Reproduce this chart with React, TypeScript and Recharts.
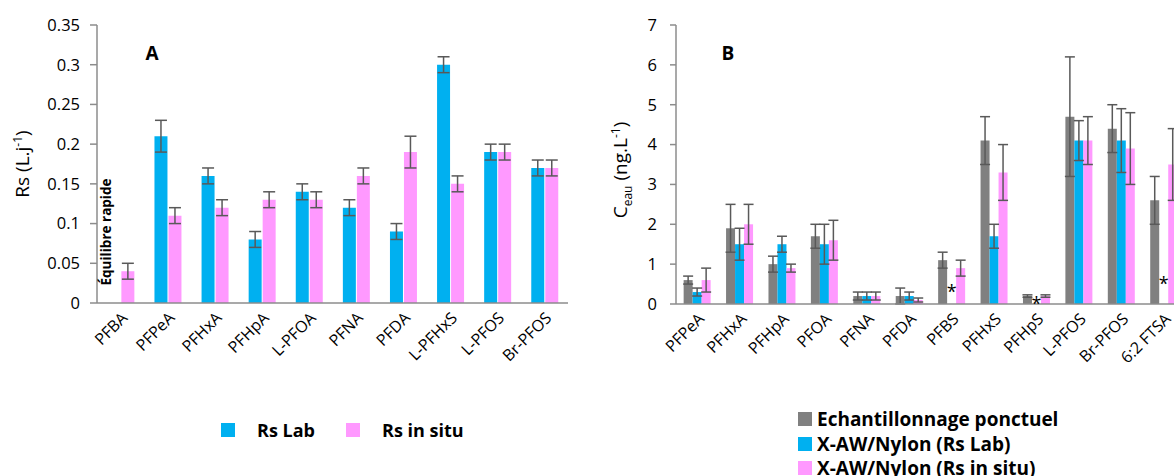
import { ComposedChart, Bar, Line, XAxis, YAxis, ErrorBar } from "recharts";

const FONT = '"Open Sans", sans-serif';
const BLUE = "#00B0F0";
const PINK = "#FF99FF";
const GRAY = "#808080";
const ERR = "#595959";
const AXIS = "#8C8C8C";

// Panel A : taux d'échantillonnage
const categoriesA = ["PFBA", "PFPeA", "PFHxA", "PFHpA", "L-PFOA", "PFNA", "PFDA", "L-PFHxS", "L-PFOS", "Br-PFOS"];
const rsLab = [null, 0.21, 0.16, 0.08, 0.14, 0.12, 0.09, 0.3, 0.19, 0.17];
const rsLabErr = [null, 0.02, 0.01, 0.01, 0.01, 0.01, 0.01, 0.01, 0.01, 0.01];
const rsInSitu = [0.04, 0.11, 0.12, 0.13, 0.13, 0.16, 0.19, 0.15, 0.19, 0.17];
const rsInSituErr = [0.01, 0.01, 0.01, 0.01, 0.01, 0.01, 0.02, 0.01, 0.01, 0.01];
const ticksA = [0, 0.05, 0.1, 0.15, 0.2, 0.25, 0.3, 0.35];

// Panel B : concentrations dans l'eau
const categoriesB = ["PFPeA", "PFHxA", "PFHpA", "PFOA", "PFNA", "PFDA", "PFBS", "PFHxS", "PFHpS", "L-PFOS", "Br-PFOS", "6:2 FTSA"];
const ponctuel = [0.6, 1.9, 1.0, 1.7, 0.2, 0.2, 1.1, 4.1, 0.2, 4.7, 4.4, 2.6];
const ponctuelErr = [0.1, 0.6, 0.2, 0.3, 0.1, 0.2, 0.2, 0.6, 0.03, 1.5, 0.6, 0.6];
const nylonLab = [0.3, 1.5, 1.5, 1.5, 0.2, 0.2, null, 1.7, null, 4.1, 4.1, null];
const nylonLabErr = [0.1, 0.4, 0.2, 0.5, 0.1, 0.1, null, 0.3, null, 0.5, 0.8, null];
const nylonInSitu = [0.6, 2.0, 0.9, 1.6, 0.2, 0.1, 0.9, 3.3, 0.2, 4.1, 3.9, 3.5];
const nylonInSituErr = [0.3, 0.5, 0.1, 0.5, 0.1, 0.05, 0.2, 0.7, 0.03, 0.6, 0.9, 0.9];
// asterisks (no Rs Lab available)
const starPos = [null, null, null, null, null, null, 0.43, null, 0.12, null, null, 0.63];
const ticksB = [0, 1, 2, 3, 4, 5, 6, 7];

const legendA = [
  { label: "Rs Lab", color: BLUE },
  { label: "Rs in situ", color: PINK },
];
const legendB = [
  { label: "Echantillonnage ponctuel", color: GRAY },
  { label: "X-AW/Nylon (Rs Lab)", color: BLUE },
  { label: "X-AW/Nylon (Rs in situ)", color: PINK },
];

const dataA = categoriesA.map((name, i) => ({
  name,
  lab: rsLab[i],
  labErr: rsLabErr[i],
  situ: rsInSitu[i],
  situErr: rsInSituErr[i],
}));

const dataB = categoriesB.map((name, i) => ({
  name,
  ponc: ponctuel[i],
  poncErr: ponctuelErr[i],
  lab: nylonLab[i],
  labErr: nylonLabErr[i],
  situ: nylonInSitu[i],
  situErr: nylonInSituErr[i],
  star: starPos[i],
}));

function AngledTick(props: any) {
  const { x, y, payload } = props;
  return (
    <g transform={`translate(${x + 4},${y + 12})`}>
      <text
        textAnchor="end"
        transform="rotate(-45)"
        dy="0.35em"
        fontSize={16}
        fill="#000"
        fontFamily={FONT}
      >
        {payload.value}
      </text>
    </g>
  );
}

function Star(props: any) {
  const { cx, cy, value } = props;
  if (value == null || cx == null || cy == null) return null;
  return (
    <text x={cx} y={cy} dy="0.6em" textAnchor="middle" fontSize={18} fontFamily={FONT} fill="#000">
      *
    </text>
  );
}

const tickStyle = { fontSize: 16.5, fill: "#000", fontFamily: FONT };

function Legend({ items, left, top, gap, row, size }: any) {
  return (
    <div style={{ position: "absolute", left, top, fontFamily: FONT, fontWeight: 700, fontSize: size, color: "#000" }}>
      {items.map((it: any, i: number) => (
        <div
          key={it.label}
          style={{
            position: "absolute",
            left: row ? 0 : i * gap,
            top: row ? i * gap : 0,
            display: "flex",
            alignItems: "center",
            whiteSpace: "nowrap",
            height: 24,
          }}
        >
          <span style={{ width: 14, height: 14, background: it.color, marginRight: row ? 5 : 22, display: "inline-block" }} />
          {it.label}
        </div>
      ))}
    </div>
  );
}

const abs = (left: number, top: number, extra: any = {}) => ({
  position: "absolute" as const,
  left,
  top,
  transform: "translate(-50%,-50%)",
  whiteSpace: "nowrap" as const,
  fontFamily: FONT,
  color: "#000",
  lineHeight: 1,
  ...extra,
});

export default function App() {
  return (
    <div style={{ position: "fixed", left: 0, top: 0, width: 1174, height: 476, overflow: "hidden", background: "#fff" }}>
      <div style={{ position: "absolute", left: 0, top: 0 }}>
        <ComposedChart
          width={600}
          height={476}
          data={dataA}
          margin={{ top: 25, right: 32, bottom: 103, left: 0 }}
          barCategoryGap="22%"
          barGap={1}
        >
          <XAxis
            dataKey="name"
            interval={0}
            height={70}
            tickLine={false}
            tickSize={0}
            tickMargin={0}
            axisLine={{ stroke: AXIS, strokeWidth: 1.5 }}
            tick={<AngledTick />}
          />
          <YAxis
            width={97}
            domain={[0, 0.35]}
            ticks={ticksA}
            tickSize={7}
            tickMargin={10}
            axisLine={{ stroke: AXIS, strokeWidth: 1.5 }}
            tickLine={{ stroke: AXIS, strokeWidth: 1.5 }}
            tick={tickStyle}
          />
          <Bar dataKey="lab" fill={BLUE} isAnimationActive={false}>
            <ErrorBar dataKey="labErr" width={6} stroke={ERR} strokeWidth={1.5} direction="y" />
          </Bar>
          <Bar dataKey="situ" fill={PINK} isAnimationActive={false}>
            <ErrorBar dataKey="situErr" width={6} stroke={ERR} strokeWidth={1.5} direction="y" />
          </Bar>
        </ComposedChart>
      </div>

      <div style={{ position: "absolute", left: 580, top: 0 }}>
        <ComposedChart
          width={620}
          height={476}
          data={dataB}
          margin={{ top: 25, right: 15, bottom: 102, left: 0 }}
          barCategoryGap="18%"
          barGap={0}
        >
          <XAxis
            dataKey="name"
            interval={0}
            height={70}
            tickLine={false}
            tickSize={0}
            tickMargin={0}
            axisLine={{ stroke: AXIS, strokeWidth: 1.5 }}
            tick={<AngledTick />}
          />
          <YAxis
            width={96}
            domain={[0, 7]}
            ticks={ticksB}
            tickSize={6}
            tickMargin={13}
            axisLine={{ stroke: AXIS, strokeWidth: 1.5 }}
            tickLine={{ stroke: AXIS, strokeWidth: 1.5 }}
            tick={tickStyle}
          />
          <Bar dataKey="ponc" fill={GRAY} isAnimationActive={false}>
            <ErrorBar dataKey="poncErr" width={5} stroke={ERR} strokeWidth={1.5} direction="y" />
          </Bar>
          <Bar dataKey="lab" fill={BLUE} isAnimationActive={false}>
            <ErrorBar dataKey="labErr" width={5} stroke={ERR} strokeWidth={1.5} direction="y" />
          </Bar>
          <Bar dataKey="situ" fill={PINK} isAnimationActive={false}>
            <ErrorBar dataKey="situErr" width={5} stroke={ERR} strokeWidth={1.5} direction="y" />
          </Bar>
          <Line
            dataKey="star"
            stroke="none"
            dot={<Star />}
            activeDot={false}
            legendType="none"
            isAnimationActive={false}
          />
        </ComposedChart>
      </div>

      {/* axis titles and panel letters */}
      <div style={abs(22, 164, { fontSize: 19, transform: "translate(-50%,-50%) rotate(-90deg)" })}>
        Rs (L.j<sup style={{ fontSize: 12 }}>-1</sup>)
      </div>
      <div style={abs(622, 170, { fontSize: 19, transform: "translate(-50%,-50%) rotate(-90deg)" })}>
        C<sub style={{ fontSize: 12 }}>eau</sub> (ng.L<sup style={{ fontSize: 12 }}>-1</sup>)
      </div>
      <div style={abs(152, 53, { fontSize: 19, fontWeight: 700 })}>A</div>
      <div style={abs(728, 53, { fontSize: 19, fontWeight: 700 })}>B</div>
      <div style={abs(107, 232, { fontSize: 13.5, fontWeight: 700, transform: "translate(-50%,-50%) rotate(-90deg)" })}>
        Équilibre rapide
      </div>

      <Legend items={legendA} left={221} top={418} gap={125} row={false} size={18} />
      <Legend items={legendB} left={798} top={407} gap={24.5} row={true} size={19} />
    </div>
  );
}
